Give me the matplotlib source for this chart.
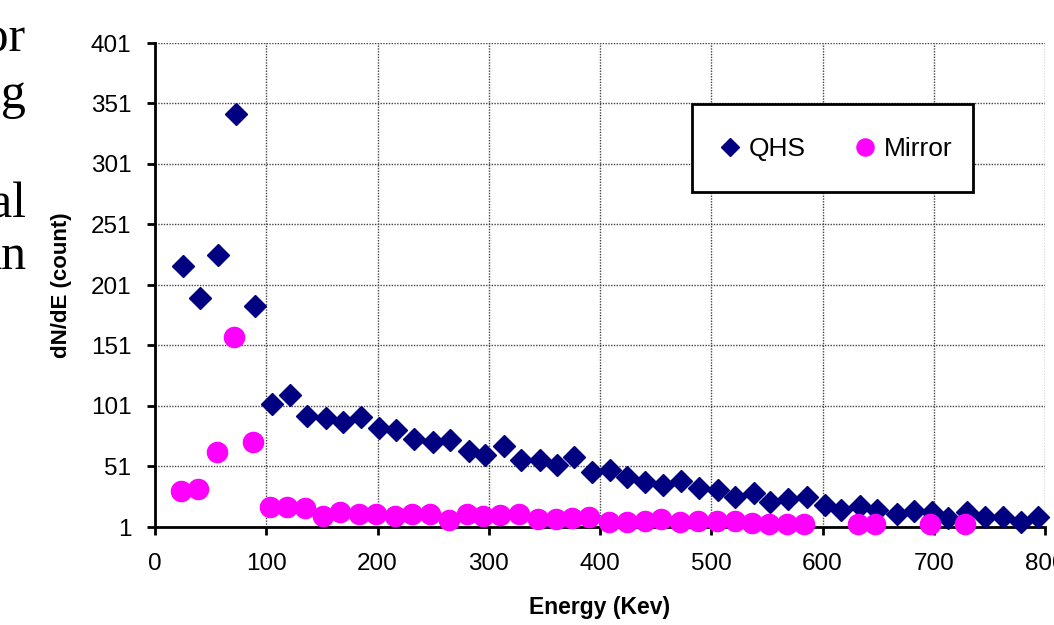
import numpy as np
import matplotlib.pyplot as plt
from matplotlib.patches import Rectangle

# energy bins (keV) and counts
qhs_e = [25, 40, 57, 73, 90, 105, 121, 137, 154, 169, 185, 201, 217, 233, 250,
         265, 282, 297, 314, 329, 346, 361, 377, 393, 409, 424, 440, 457, 473,
         489, 506, 521, 538, 553, 569, 586, 602, 617, 634, 649, 667, 682, 698,
         713, 730, 746, 762, 778, 794]
qhs_n = [217, 190, 226, 342, 184, 103, 110, 93, 91, 88, 92, 83, 81, 74, 71.5,
         73, 64, 60.5, 68, 56, 56, 52, 58.6, 46.7, 48, 42, 38.4, 35.7, 39.3,
         33, 31.6, 25.5, 28.9, 22, 24, 25.5, 19.2, 15, 18.4, 15, 11.7, 14.5, 13.6,
         8.2, 13.6, 9.5, 9.5, 5.4, 9.5]

mirror_e = [23, 39, 56, 71, 88, 103, 119, 135, 151, 166, 183, 199, 216, 231,
            247, 264, 280, 295, 310, 327, 344, 360, 375, 390, 408, 424, 440,
            455, 472, 488, 505, 521, 537, 552, 568, 583, 632, 647, 697, 728]
mirror_n = [31, 32.4, 62.7, 157.8, 71, 17.3, 17.3, 17, 10.1, 13.1, 11.7, 11.5,
            10.3, 11.5, 11.7, 6.8, 11.7, 10.1, 10.9, 11.5, 7.4, 7.4, 8.2, 9.5,
            5.4, 5.4, 6.2, 7.4, 5.4, 6, 6.2, 6.2, 4.6, 3.5, 3.5, 3.5, 3.5, 3.5,
            3.5, 3.5]

y_ticks = [1, 51, 101, 151, 201, 251, 301, 351, 401]
x_ticks = [0, 100, 200, 300, 400, 500, 600, 700, 800]

plt.rcParams['font.family'] = ['Liberation Sans', 'DejaVu Sans']

fig = plt.figure(figsize=(10.54, 6.25), dpi=100)
ax = fig.add_axes([155/1054, 1 - 527/625, 890/1054, 484/625])

ax.plot(qhs_e, qhs_n, linestyle='none', marker='D', ms=11.3, color='#000080',
        mec='#000080', label='QHS', zorder=3, clip_on=False)
ax.plot(mirror_e, mirror_n, linestyle='none', marker='o', ms=14.5, color='#ff00ff',
        mec='#ff00ff', label='Mirror', zorder=4, clip_on=False)

ax.set_xlim(0, 800)
ax.set_ylim(1, 401)
ax.set_xticks(x_ticks)
ax.set_yticks(y_ticks)
ax.grid(True, color='#444444', linestyle=(0, (1, 1)), linewidth=1)
ax.set_axisbelow(True)

for s in ['top', 'right']:
    ax.spines[s].set_visible(False)
for s in ['left', 'bottom']:
    ax.spines[s].set_linewidth(2)
    ax.spines[s].set_zorder(2.5)

ax.tick_params(axis='both', direction='out', length=6, width=2, labelsize=17.5)
ax.tick_params(axis='y', pad=11)
ax.tick_params(axis='x', pad=13)

ax.set_xlabel('Energy (Kev)', fontsize=16.5, fontweight='bold')
ax.set_ylabel('dN/dE (count)', fontsize=16, fontweight='bold')
ax.xaxis.set_label_coords(0.5, -0.143)
ax.yaxis.set_label_coords(-0.093, 0.5)

# legend box
box = Rectangle((0.603, 0.693), 0.316, 0.181, transform=ax.transAxes,
                facecolor='white', edgecolor='black', linewidth=2, zorder=5)
ax.add_patch(box)
leg = ax.legend(loc='center', bbox_to_anchor=(0.765, 0.781), ncol=2, frameon=False,
                fontsize=19, markerscale=0.85, handlelength=0.8, handletextpad=0.3,
                columnspacing=1.85)
leg.set_zorder(6)

# bits of slide text cut by the left edge
fig.text(26/1054, 1 - 52/625, 'for', fontfamily='Liberation Serif', fontsize=36,
         ha='right', va='baseline')
fig.text(26/1054, 1 - 108/625, 'ing', fontfamily='Liberation Serif', fontsize=36,
         ha='right', va='baseline')
fig.text(26/1054, 1 - 218/625, 'ical', fontfamily='Liberation Serif', fontsize=36,
         ha='right', va='baseline')
fig.text(26/1054, 1 - 270/625, 'an', fontfamily='Liberation Serif', fontsize=36,
         ha='right', va='baseline')

fig.savefig('out.png', dpi=100)
